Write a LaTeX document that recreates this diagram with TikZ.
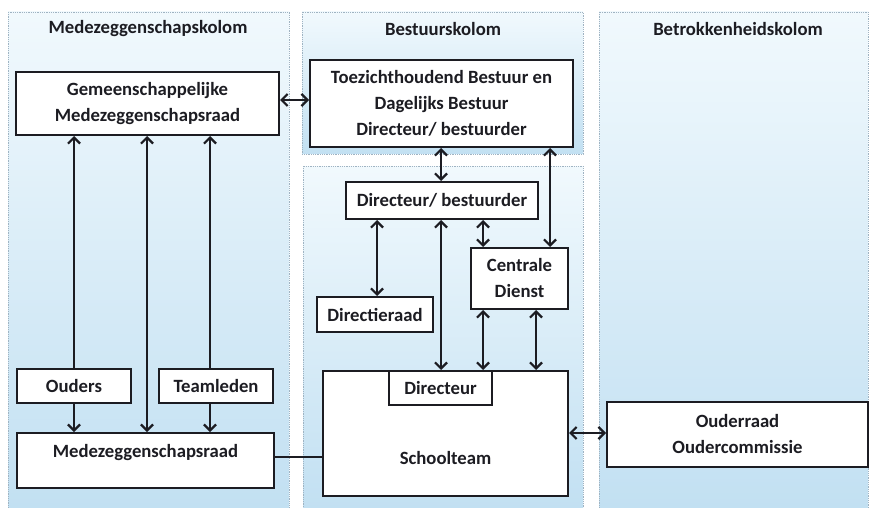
\documentclass[tikz,border=0pt]{standalone}
\usepackage{fontspec}
\setmainfont{Carlito}
\usetikzlibrary{arrows.meta}
\definecolor{paneltop}{HTML}{F1F9FD}
\definecolor{panelbot}{HTML}{C2E0F2}
\definecolor{panelline}{HTML}{9FB3C2}
\definecolor{ink}{HTML}{1C1C22}
\tikzset{
  panel/.style={draw=panelline, densely dotted, line width=0.8pt, top color=paneltop, bottom color=panelbot},
  box/.style={draw=ink, fill=white, line width=2pt, rectangle, inner sep=0pt, align=center, text=ink},
  lbl/.style={text=ink, align=center, inner sep=0pt},
  head/.style={text=ink, inner sep=0pt},
  con/.style={draw=ink, line width=2.2pt},
  tip/.tip={Straight Barb[length=6pt,width=12pt,line width=2.2pt]},
}
\begin{document}
\begin{tikzpicture}[x=1pt,y=-1pt,font=\fontsize{18.7}{26}\selectfont\bfseries]
\useasboundingbox (0,0) rectangle (870,508);
\fill[white] (0,0) rectangle (870,508);
% panels
\path[panel] (8,12) rectangle (289,508);
\path[panel] (302,12) rectangle (583,154);
\path[panel] (303,166) rectangle (583,508);
\path[panel] (599,12) rectangle (868,508);
% headings
\node[head] (h1) at (148,29) {Medezeggenschapskolom};
\node[head] (h2) at (443,29) {Bestuurskolom};
\node[head] (h3) at (738,29) {Betrokkenheidskolom};
% boxes
\node[box, minimum width=263pt, minimum height=63pt] (gmr) at (147.5,103.5) {Gemeenschappelijke\\Medezeggenschapsraad};
\node[box, minimum width=263pt, minimum height=87pt] (tb) at (441.5,103.5) {Toezichthoudend Bestuur en\\Dagelijks Bestuur\\Directeur/ bestuurder};
\node[box, minimum width=192pt, minimum height=37pt] (db) at (442,200.5) {Directeur/ bestuurder};
\node[box, minimum width=97pt, minimum height=61pt] (cd) at (519.5,278.5) {Centrale\\Dienst};
\node[box, minimum width=116pt, minimum height=35pt] (dr) at (375,314.5) {Directieraad};
\node[box, minimum width=245pt, minimum height=125pt] (st) at (445.5,433.5) {};
\node[lbl] (stl) at (445.5,458) {Schoolteam};
\node[box, minimum width=103pt, minimum height=34pt] (dir) at (440.5,388) {Directeur};
\node[box, minimum width=114pt, minimum height=34pt] (ou) at (74,386) {Ouders};
\node[box, minimum width=114pt, minimum height=34pt] (tl) at (216,386) {Teamleden};
\node[box, minimum width=257pt, minimum height=55pt] (mr) at (145.5,460.5) {};
\node[lbl] (mrl) at (145.5,453) {Medezeggenschapsraad};
\node[box, minimum width=261pt, minimum height=65pt] (or) at (737.5,434.5) {Ouderraad\\Oudercommissie};
% connectors, left column
\draw[con, -tip] (ou.north) -- (ou.north |- gmr.south);
\draw[con, -tip] (ou.south) -- (ou.south |- mr.north);
\draw[con, tip-tip] (gmr.south -| 147,0) -- (mr.north -| 147,0);
\draw[con, -tip] ([xshift=-6pt]tl.north) -- ([xshift=-6pt]tl.north |- gmr.south);
\draw[con, -tip] ([xshift=-6pt]tl.south) -- ([xshift=-6pt]tl.south |- mr.north);
\draw[con, tip-tip] (gmr.east |- 0,100) -- (tb.west |- 0,100);
% middle column
\draw[con, tip-tip] (tb.south -| 441,0) -- (db.north -| 441,0);
\draw[con, tip-tip] (tb.south -| 550,0) -- (cd.north -| 550,0);
\draw[con, tip-tip] (db.south -| 377,0) -- (dr.north -| 377,0);
\draw[con, tip-tip] (db.south -| 441,0) -- (dir.north -| 441,0);
\draw[con, tip-tip] (db.south -| 483,0) -- (cd.north -| 483,0);
\draw[con, tip-tip] (cd.south -| 483,0) -- (st.north -| 483,0);
\draw[con, tip-tip] (cd.south -| 536,0) -- (st.north -| 536,0);
% horizontal links
\draw[con] (mr.east |- 0,457) -- (st.west |- 0,457);
\draw[con, tip-tip] (st.east |- 0,433) -- (or.west |- 0,433);
\end{tikzpicture}
\end{document}
